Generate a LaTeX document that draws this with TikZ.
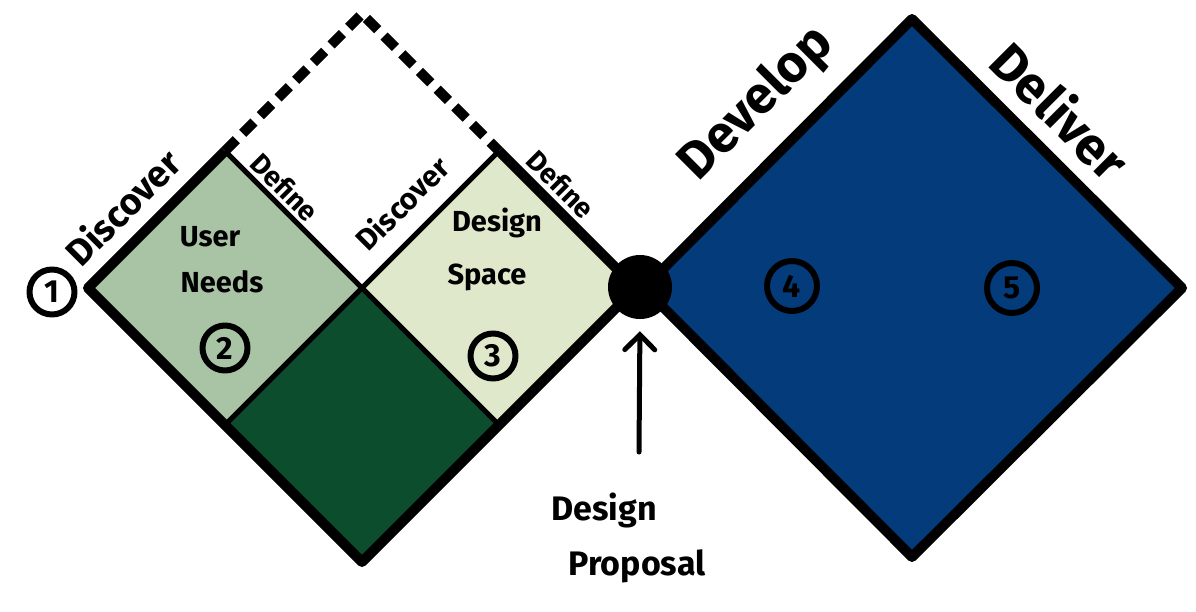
\documentclass[tikz,border=0pt]{standalone}
\usepackage{fontspec}
\setmainfont{Fira Sans}
\usetikzlibrary{arrows.meta}
\definecolor{needsgreen}{HTML}{A9C4A5}
\definecolor{spacegreen}{HTML}{DFE8CB}
\definecolor{deepgreen}{HTML}{0B4D2D}
\definecolor{deepblue}{HTML}{033B7B}
\newcommand{\fs}[1]{\fontsize{#1}{#1}\selectfont}
\begin{document}
\begin{tikzpicture}[x=1pt,y=-1pt,line join=round,
  outer/.style={line width=10pt},
  inner/.style={line width=5pt},
  edgelabel/.style={font=\bfseries\fs{30}, inner sep=0pt},
  biglabel/.style={font=\bfseries\fs{52}, inner sep=0pt},
  boxtext/.style={font=\bfseries\fs{29}, inner sep=0pt},
  numc/.style={circle, draw, line width=6pt, minimum size=45pt, inner sep=0pt, font=\bfseries\fs{32}},
  pointer/.style={line width=5pt, line cap=round, -{Straight Barb[length=15pt,width=30pt,line cap=round]}}]
\useasboundingbox (0,0) rectangle (1196,611);
% left diamond corners
\coordinate (L) at (88,288);
\coordinate (T) at (362,14);
\coordinate (R) at (636,288);
\coordinate (B) at (362,562);
\coordinate (C) at (362,288);
\coordinate (ML) at (225,151);
\coordinate (MR) at (499,151);
\coordinate (BL) at (225,425);
\coordinate (BR) at (499,425);
% right diamond corners
\coordinate (L2) at (644,288);
\coordinate (T2) at (912,19);
\coordinate (R2) at (1182,288);
\coordinate (B2) at (912,557);
% fills
\fill[needsgreen] (L) -- (ML) -- (C) -- (BL) -- cycle;
\fill[spacegreen] (C) -- (MR) -- (R) -- (BR) -- cycle;
\fill[deepgreen] (BL) -- (C) -- (BR) -- (B) -- cycle;
\fill[deepblue] (L2) -- (T2) -- (R2) -- (B2) -- cycle;
% inner lines
\draw[inner] (ML) -- (C) -- (BR);
\draw[inner] (MR) -- (C) -- (BL);
% outlines
\draw[outer] (ML) -- (L) -- (B) -- (R) -- (MR);
\draw[outer, dash pattern=on 16pt off 9pt] (ML) -- (T) -- (MR);
\draw[outer] (L2) -- (T2) -- (R2) -- (B2) -- cycle;
% hub
\node[circle, fill=black, minimum size=64pt, inner sep=0pt] (hub) at (640,287) {};
% labels
\node[edgelabel, font=\bfseries\fs{37}, rotate=45] (disc1) at (122,207) {Discover};
\node[edgelabel, font=\bfseries\fs{28}, rotate=-45] (def1) at (285,187) {Define};
\node[edgelabel, rotate=45] (disc2) at (402,203) {Discover};
\node[edgelabel, font=\bfseries\fs{28}, rotate=-45] (def2) at (561,184) {Define};
\node[biglabel, rotate=45] (dev) at (757,104) {Develop};
\node[biglabel, rotate=-45] (del) at (1061,110) {Deliver};
\node[boxtext] (user) at (210,237) {User};
\node[boxtext] (needs) at (222,282) {Needs};
\node[boxtext] (design) at (497,223) {Design};
\node[boxtext] (space) at (487,277) {Space};
% numbers
\node[numc] (n1) at (52,292) {1};
\node[numc] (n2) at (225,348) {2};
\node[numc] (n3) at (493,356) {3};
\node[numc, minimum size=50pt] (n4) at (792,286) {4};
\node[numc, minimum size=50pt] (n5) at (1012,288) {5};
% design proposal
\node[boxtext, font=\bfseries\fs{34}] (propA) at (604,510) {Design};
\node[boxtext, font=\bfseries\fs{34}] (propB) at (637,566) {Proposal};
\coordinate (tail) at (639,452);
\draw[pointer, shorten >=12pt] (tail) -- (hub.south);
\end{tikzpicture}
\end{document}
